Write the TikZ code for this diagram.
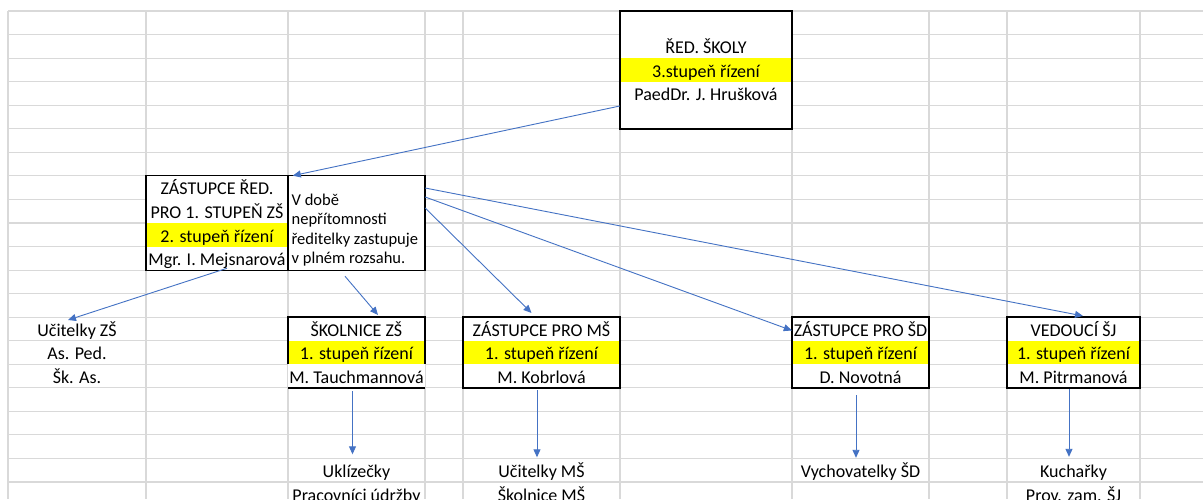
\documentclass[tikz,border=0pt]{standalone}
\usepackage{fontspec}
\setmainfont{Carlito}
\usetikzlibrary{arrows.meta,calc}
\definecolor{gridc}{HTML}{D9D9D9}
\definecolor{arrc}{HTML}{4472C4}
\definecolor{yel}{HTML}{FFFF00}
\tikzset{
  gridline/.style={draw=gridc, line width=1.1pt},
  cellbg/.style={fill=white, draw=none, inner sep=0pt, rectangle},
  border/.style={draw=black, line width=1.5pt},
  thickborder/.style={draw=black, line width=2pt},
  celltext/.style={anchor=base, inner sep=0pt, font=\fontsize{18}{22}\selectfont, text height=13pt, text depth=4pt},
  notetext/.style={anchor=base west, inner sep=0pt, font=\fontsize{16.5}{19.6}\selectfont},
  conn/.style={draw=arrc, line width=0.9pt, -{Triangle[length=8pt,width=7pt]}},
}
\begin{document}
\begin{tikzpicture}[x=1pt,y=-1pt]
\useasboundingbox (0,0) rectangle (1203,499);
\clip (0,0) rectangle (1203,499);
\fill[white] (0,0) rectangle (1203,499);
% grid
\foreach \k in {0,...,21} \draw[gridline] (8,{11+23.55*\k}) -- (1203,{11+23.55*\k});
\foreach \x in {8,146,288,425,463,620,792,929,1007,1140} \draw[gridline] (\x,11) -- (\x,499);

% ---- boxes (backgrounds)
\node[cellbg, minimum width=172pt, minimum height=117.75pt] (red) at (706,69.875) {};
\node[cellbg, minimum width=142pt, minimum height=94.2pt] (zl) at (217,222.95) {};
\node[cellbg, minimum width=137pt, minimum height=94.2pt] (zn) at (356.5,222.95) {};
\node[cellbg, minimum width=137pt, minimum height=70.65pt] (skol) at (356.5,352.475) {};
\node[cellbg, minimum width=157pt, minimum height=70.65pt] (ms) at (541.5,352.475) {};
\node[cellbg, minimum width=137pt, minimum height=70.65pt] (sd) at (860.5,352.475) {};
\node[cellbg, minimum width=133pt, minimum height=70.65pt] (sj) at (1073.5,352.475) {};

% yellow bands
\fill[yel] (red.west |- 0,58.1) rectangle (red.east |- 0,81.65);
\fill[yel] (zl.west |- 0,222.95) rectangle (zl.east |- 0,246.5);
\foreach \b in {skol,ms,sd,sj} \fill[yel] (\b.west |- 0,340.7) rectangle (\b.east |- 0,364.25);

% ---- texts
\node[celltext] (red1) at (706,53.6) {ŘED. ŠKOLY};
\node[celltext] (red2) at (706,77.15) {3.stupeň řízení};
\node[celltext] (red3) at (706,100.7) {PaedDr. J. Hrušková};

\node[celltext] (zl1) at (217,194.9) {ZÁSTUPCE ŘED.};
\node[celltext] (zl2) at (217,218.45) {PRO 1. STUPEŇ ZŠ};
\node[celltext] (zl3) at (217,242) {2. stupeň řízení};
\node[celltext] (zl4) at (217,265.55) {Mgr. I. Mejsnarová};

\node[notetext] (zn1) at (291.5,205) {V době};
\node[notetext] (zn2) at (291.5,224.6) {nepřítomnosti};
\node[notetext] (zn3) at (291.5,244.2) {ředitelky zastupuje};
\node[notetext] (zn4) at (291.5,263.8) {v plném rozsahu.};

\node[celltext] (uz1) at (77,336.2) {Učitelky ZŠ};
\node[celltext] (uz2) at (77,359.75) {As. Ped.};
\node[celltext] (uz3) at (77,383.3) {Šk. As.};

\node[celltext] (skol1) at (356.5,336.2) {ŠKOLNICE ZŠ};
\node[celltext] (skol2) at (356.5,359.75) {1. stupeň řízení};
\node[celltext] (skol3) at (356.5,383.3) {M. Tauchmannová};

\node[celltext] (ms1) at (541.5,336.2) {ZÁSTUPCE PRO MŠ};
\node[celltext] (ms2) at (541.5,359.75) {1. stupeň řízení};
\node[celltext] (ms3) at (541.5,383.3) {M. Kobrlová};

\node[celltext] (sd1) at (860.5,336.2) {ZÁSTUPCE PRO ŠD};
\node[celltext] (sd2) at (860.5,359.75) {1. stupeň řízení};
\node[celltext] (sd3) at (860.5,383.3) {D. Novotná};

\node[celltext] (sj1) at (1073.5,336.2) {VEDOUCÍ ŠJ};
\node[celltext] (sj2) at (1073.5,359.75) {1. stupeň řízení};
\node[celltext] (sj3) at (1073.5,383.3) {M. Pitrmanová};

\node[celltext] (ukl1) at (356.5,477.5) {Uklízečky};
\node[celltext] (ukl2) at (356.5,501.05) {Pracovníci údržby};
\node[celltext] (ucm1) at (541.5,477.5) {Učitelky MŠ};
\node[celltext] (ucm2) at (541.5,501.05) {Školnice MŠ};
\node[celltext] (vych) at (860.5,477.5) {Vychovatelky ŠD};
\node[celltext] (kuch1) at (1073.5,477.5) {Kuchařky};
\node[celltext] (kuch2) at (1073.5,501.05) {Prov. zam. ŠJ};

% ---- borders
\draw[thickborder] (red.south west) rectangle (red.north east);
\draw[border] (zl.south west) rectangle (zl.north east);
\draw[border] (zn.south west) rectangle (zn.north east);
\draw[gridline] (skol.south west) -- (skol.west |- 0,364.25);
\draw[gridline] (skol.south east) -- (skol.east |- 0,364.25);
\draw[border] (skol.west |- 0,364.25) -- (skol.north west) -- (skol.north east) -- (skol.east |- 0,364.25);
\draw[border] (skol.south west) -- (skol.south east);
\draw[border] (ms.south west) rectangle (ms.north east);
\draw[border] (sd.south west) rectangle (sd.north east);
\draw[border] (sj.south west) rectangle (sj.north east);

% ---- connectors
\draw[conn] (red.west |- 0,106) -- ([xshift=5pt]zn.north west);
\draw[conn] ([xshift=10pt,yshift=2pt]zl.south) -- ([xshift=-9pt,yshift=3pt]uz1.north);
\draw[conn] ([xshift=-11.5pt,yshift=-6pt]zn.south) -- ([xshift=21.5pt,yshift=2pt]skol.north);
\draw[conn] (zn.east |- 0,208) -- ([xshift=-10pt,yshift=4pt]ms.north);
\draw[conn] (zn.east |- 0,197) -- ([yshift=22pt]sd.west);
\draw[conn] (zn.east |- 0,188) -- ([xshift=9.5pt,yshift=1pt]sj.north);

\draw[conn, shorten <=3pt, shorten >=10pt] ([xshift=-4pt]skol.south) -- ([xshift=-4pt]skol.south |- ukl1.north);
\draw[conn, shorten <=2pt, shorten >=7pt] ([xshift=-4.5pt]ms.south) -- ([xshift=-4.5pt]ms.south |- ucm1.north);
\draw[conn, shorten <=7pt, shorten >=6.5pt] ([xshift=-4.5pt]sd.south) -- ([xshift=-4.5pt]sd.south |- vych.north);
\draw[conn, shorten <=1pt, shorten >=7.5pt] ([xshift=-4.5pt]sj.south) -- ([xshift=-4.5pt]sj.south |- kuch1.north);
\end{tikzpicture}
\end{document}
